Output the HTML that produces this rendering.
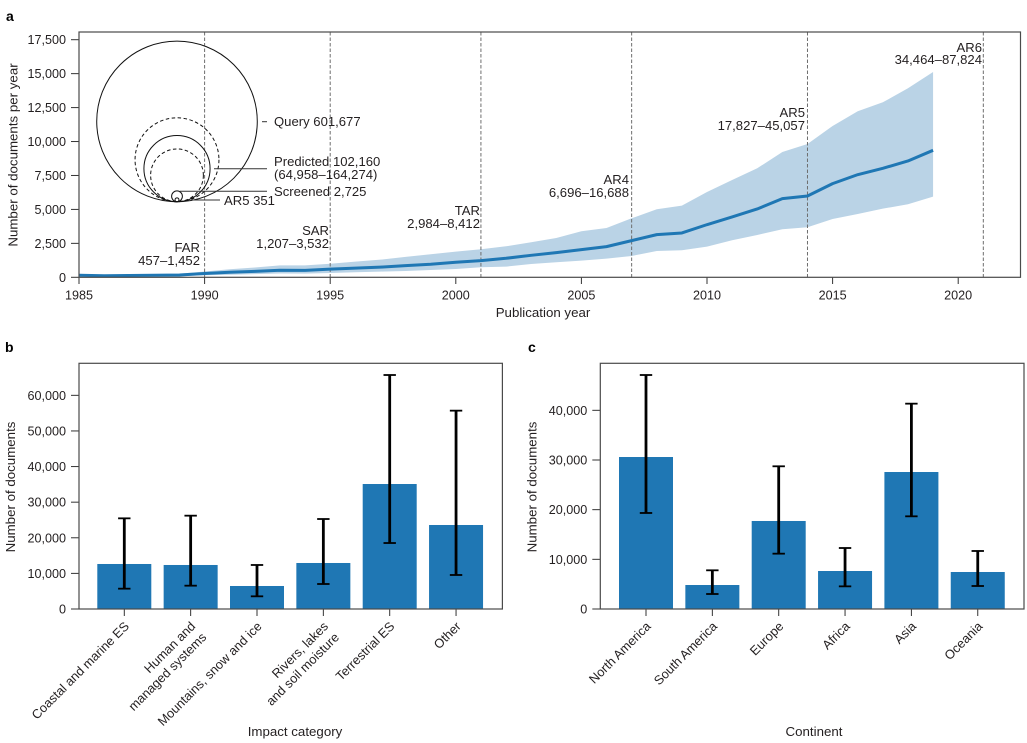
<!DOCTYPE html>
<html>
<head>
<meta charset="utf-8">
<style>
html,body{margin:0;padding:0;background:#fff;}
svg{display:block;font-family:"Liberation Sans",sans-serif;fill:#231f20;}
text{font-size:13.1px;}
text.tick{font-size:12.6px;}
text.cat{font-size:12.8px;}
text.title{font-size:13.3px;}
text.panel{font-size:14px;font-weight:bold;fill:#000;}
.frame{fill:none;stroke:#4a4a4a;stroke-width:1.2;}
.note{fill:none;stroke:#333;stroke-width:1;}
</style>
</head>
<body>
<svg id="fig" width="1027" height="743" viewBox="0 0 1027 743" xmlns="http://www.w3.org/2000/svg">
  <text class="panel" x="6" y="21">a</text>
  <text class="panel" x="5" y="352">b</text>
  <text class="panel" x="528" y="352">c</text>

  <g id="chartA"></g>
  <g id="chartB"></g>
  <g id="chartC"></g>

  <rect class="frame" x="79" y="32" width="941.5" height="245.3"/>
  <rect class="frame" x="79" y="363.3" width="423.4" height="245.7"/>
  <rect class="frame" x="600.3" y="363.3" width="423.7" height="245.7"/>

  <text class="title" transform="translate(17.5,155) rotate(-90)" text-anchor="middle">Number of documents per year</text>
  <text class="title" x="543" y="317" text-anchor="middle">Publication year</text>
  <text class="title" transform="translate(15,487) rotate(-90)" text-anchor="middle">Number of documents</text>
  <text class="title" x="295" y="736" text-anchor="middle">Impact category</text>
  <text class="title" transform="translate(536.5,487) rotate(-90)" text-anchor="middle">Number of documents</text>
  <text class="title" x="814" y="736" text-anchor="middle">Continent</text>

  <g text-anchor="end">
    <text x="200" y="252">FAR</text>
    <text x="200" y="265">457–1,452</text>
    <text x="329" y="235">SAR</text>
    <text x="329" y="248">1,207–3,532</text>
    <text x="480" y="215">TAR</text>
    <text x="480" y="228">2,984–8,412</text>
    <text x="629" y="184">AR4</text>
    <text x="629" y="197">6,696–16,688</text>
    <text x="805" y="117">AR5</text>
    <text x="805" y="130">17,827–45,057</text>
    <text x="982" y="52">AR6</text>
    <text x="982" y="64">34,464–87,824</text>
  </g>

  <g>
    <line class="note" x1="262" y1="121.7" x2="267" y2="121.7"/>
    <line class="note" x1="214" y1="168.7" x2="267" y2="168.7"/>
    <line class="note" x1="180" y1="191.3" x2="267" y2="191.3"/>
    <line class="note" x1="192" y1="200" x2="220" y2="200"/>
    <text x="274" y="126">Query 601,677</text>
    <text x="274" y="166">Predicted 102,160</text>
    <text x="274" y="179">(64,958–164,274)</text>
    <text x="274" y="196">Screened 2,725</text>
    <text x="224" y="205">AR5 351</text>
  </g>
</svg>

<script>
var years = [1985,1986,1987,1988,1989,1990,1991,1992,1993,1994,1995,1996,1997,1998,1999,2000,2001,2002,2003,2004,2005,2006,2007,2008,2009,2010,2011,2012,2013,2014,2015,2016,2017,2018,2019];
var central = [150,110,130,150,170,280,370,440,520,510,600,680,750,860,957,1105,1228,1400,1620,1817,2038,2259,2700,3142,3265,3879,4444,5033,5794,5990,6899,7561,8028,8568,9353];
var upper = [220,170,200,230,260,430,590,720,880,880,1000,1150,1300,1500,1694,1890,2062,2283,2578,2897,3388,3633,4345,5008,5278,6285,7169,8028,9231,9820,11146,12226,12889,13920,15123];
var lower = [80,60,70,80,90,150,190,230,280,270,320,370,420,466,540,614,737,786,982,1105,1228,1375,1571,1940,1989,2259,2725,3118,3535,3682,4296,4664,5057,5376,5941];
var reportYears = [1990,1995,2001,2007,2014,2021];
var yearTicks = [1985,1990,1995,2000,2005,2010,2015,2020];
var countTicksA = [0,2500,5000,7500,10000,12500,15000,17500];
var funnelSolidCounts = [601677,102160,2725,351];
var funnelDashedCounts = [164274,64958];

var impactCategories = [["Coastal and marine ES"],["Human and","managed systems"],["Mountains, snow and ice"],["Rivers, lakes","and soil moisture"],["Terrestrial ES"],["Other"]];
var impactValues = [12640,12360,6460,12920,35100,23590];
var impactLow = [5710,6550,3560,7020,18530,9550];
var impactHigh = [25460,26210,12360,25270,65710,55700];
var countTicksB = [0,10000,20000,30000,40000,50000,60000];

var continents = [["North America"],["South America"],["Europe"],["Africa"],["Asia"],["Oceania"]];
var continentValues = [30600,4830,17720,7650,27580,7450];
var continentLow = [19330,3020,11140,4560,18660,4630];
var continentHigh = [47110,7790,28730,12280,41340,11680];
var countTicksC = [0,10000,20000,30000,40000];

var NS = "http://www.w3.org/2000/svg";
function mk(parent, tag, props) {
  var el = document.createElementNS(NS, tag);
  for (var k in props) { el.setAttribute(k, props[k]); }
  parent.appendChild(el);
  return el;
}
function fmt(v) { return String(v).replace(/\B(?=(\d{3})+$)/g, ","); }

/* ---------- chart a ---------- */
var gA = document.getElementById("chartA");
function xA(year) { return 79 + (year - 1985) * 25.12; }
function yA(v) { return 277.3 - v * 0.013577; }

var bandPts = [];
years.forEach(function (yr, i) { bandPts.push(xA(yr) + "," + yA(upper[i])); });
for (var i = years.length - 1; i >= 0; i--) { bandPts.push(xA(years[i]) + "," + yA(lower[i])); }
var band = mk(gA, "polygon", {points: bandPts.join(" "), fill: "#bad3e6", stroke: "none"});



reportYears.forEach(function (yr) {
  var dash = mk(gA, "line", {x1: xA(yr), x2: xA(yr), y1: 32, y2: 277.3, stroke: "#6e6e6e", "stroke-width": 1, "stroke-dasharray": "3.5 2"});
  
  
});

var linePts = years.map(function (yr, i) { return xA(yr) + "," + yA(central[i]); }).join(" ");
var mainLine = mk(gA, "polyline", {points: linePts, fill: "none", stroke: "#1f77b4", "stroke-width": 3, "stroke-linejoin": "round"});



function rFunnel(n) { return Math.sqrt(n) * 0.1035; }
var funnelBase = 201.7;
funnelSolidCounts.forEach(function (n) {
  var r = rFunnel(n);
  var c = mk(gA, "circle", {cx: 177, cy: funnelBase - r, r: r, fill: "none", stroke: "#111", "stroke-width": 1});
  
  
});
funnelDashedCounts.forEach(function (n) {
  var r = rFunnel(n);
  var c = mk(gA, "circle", {cx: 177, cy: funnelBase - r, r: r, fill: "none", stroke: "#111", "stroke-width": 1, "stroke-dasharray": "3.5 2.5"});
  
  
});

yearTicks.forEach(function (yr) {
  var t = mk(gA, "line", {x1: xA(yr), x2: xA(yr), y1: 277.3, y2: 284, stroke: "#333", "stroke-width": 1});
  
  
  var l = mk(gA, "text", {x: xA(yr), y: 299.5, "text-anchor": "middle", "class": "tick"});
  
  
  l.textContent = yr;
});
countTicksA.forEach(function (v) {
  var t = mk(gA, "line", {x1: 71, x2: 79, y1: yA(v), y2: yA(v), stroke: "#333", "stroke-width": 1});
  
  
  var l = mk(gA, "text", {x: 66, y: yA(v) + 4.5, "text-anchor": "end", "class": "tick"});
  
  
  l.textContent = fmt(v);
});

/* ---------- bar charts ---------- */
function barChart(g, cats, vals, lows, highs, ticks, firstX, left, pxPerUnit) {
  var base = 609;
  var step = 66.35;
  var barW = 54;
  function xB(i) { return firstX + i * step; }
  function yB(v) { return base - v * pxPerUnit; }

  vals.forEach(function (v, i) {
    var b = mk(g, "rect", {x: xB(i) - barW / 2, y: yB(v), width: barW, height: base - yB(v), fill: "#1f77b4"});
    
    
  });
  vals.forEach(function (v, i) {
    var s = mk(g, "line", {x1: xB(i), x2: xB(i), y1: yB(highs[i]), y2: yB(lows[i]), stroke: "#000", "stroke-width": 2.8});
    
    
    var capTop = mk(g, "line", {x1: xB(i) - 6.2, x2: xB(i) + 6.2, y1: yB(highs[i]), y2: yB(highs[i]), stroke: "#000", "stroke-width": 1.8});
    
    
    var capLow = mk(g, "line", {x1: xB(i) - 6.2, x2: xB(i) + 6.2, y1: yB(lows[i]), y2: yB(lows[i]), stroke: "#000", "stroke-width": 1.8});
    
    
  });
  ticks.forEach(function (v) {
    var t = mk(g, "line", {x1: left - 8, x2: left, y1: yB(v), y2: yB(v), stroke: "#333", "stroke-width": 1});
    
    
    var l = mk(g, "text", {x: left - 13, y: yB(v) + 4.5, "text-anchor": "end", "class": "tick"});
    
    
    l.textContent = fmt(v);
  });
  cats.forEach(function (lines, i) {
    var t = mk(g, "line", {x1: xB(i), x2: xB(i), y1: base, y2: base + 7, stroke: "#333", "stroke-width": 1});
    
    
    var group = mk(g, "g", {transform: "translate(" + (xB(i) - 1.5) + ",620) rotate(-45)"});
    
    
    lines.forEach(function (line, k) {
      var tx = mk(group, "text", {x: 0, y: 10 + k * 15.5, "text-anchor": "end", "class": "cat"});
      
      
      tx.textContent = line;
    });
  });
}

barChart(document.getElementById("chartB"), impactCategories, impactValues, impactLow, impactHigh, countTicksB, 124.3, 79, 0.003561);
barChart(document.getElementById("chartC"), continents, continentValues, continentLow, continentHigh, countTicksC, 646, 600.3, 0.004967);
</script>
</body>
</html>
